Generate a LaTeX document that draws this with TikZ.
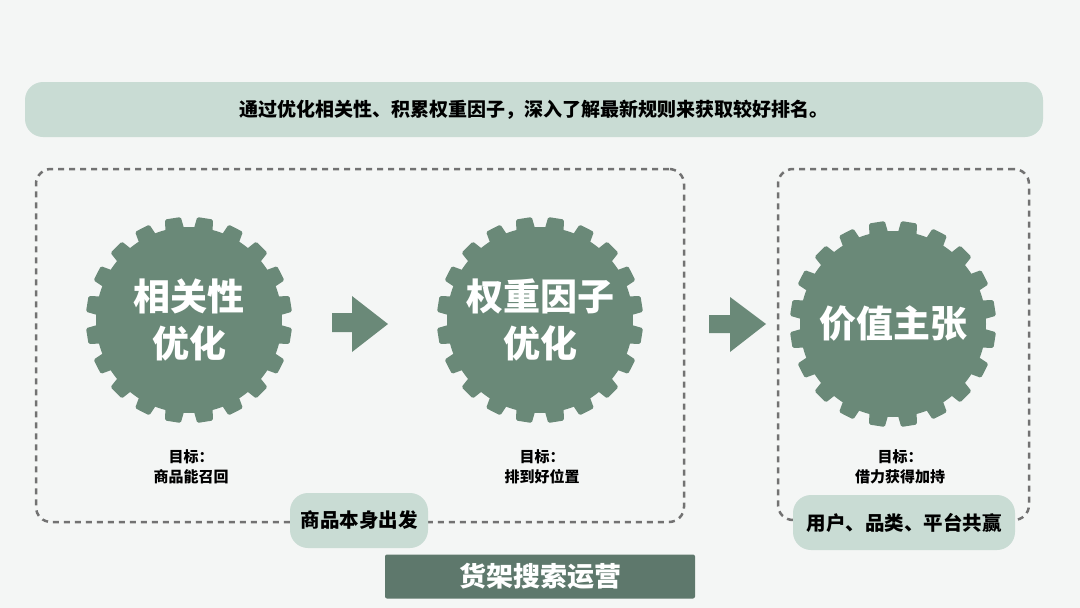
\documentclass[tikz,border=0pt]{standalone}
\usepackage{fontspec}
\setmainfont{Noto Sans CJK SC}
\definecolor{bgc}{HTML}{F4F6F5}
\definecolor{gearc}{HTML}{6A8978}
\definecolor{barc}{HTML}{5E786C}
\definecolor{tagc}{HTML}{C9DCD4}
\definecolor{dashc}{HTML}{727272}
\tikzset{
  banner/.style={fill=tagc, rounded corners=18pt, minimum width=1018pt, minimum height=55pt, inner sep=0pt, font=\fontsize{19pt}{22pt}\selectfont\bfseries, text=black},
  dashbox/.style={draw=dashc, line width=2.5pt, dash pattern=on 6pt off 5pt, rounded corners=15pt, inner sep=0pt},
  gearbody/.style={circle, fill=gearc, minimum size=186pt, inner sep=0pt, text=white, align=center, font=\fontsize{37pt}{47pt}\selectfont\bfseries},
  goal/.style={align=center, font=\fontsize{15pt}{20pt}\selectfont\bfseries, text=black},
  tagbox/.style={fill=tagc, rounded corners=18pt, minimum height=55pt, inner sep=0pt, font=\fontsize{19.5pt}{22pt}\selectfont\bfseries, text=black},
  barbox/.style={fill=barc, rounded corners=2pt, minimum width=310pt, minimum height=44pt, inner sep=0pt, font=\fontsize{27pt}{30pt}\selectfont\bfseries, text=white},
  blockarrow/.style={fill=gearc}
}
\newcommand\geartooth[1]{%
  \foreach \a in {9,27,...,351}{
    \fill[gearc, rounded corners=1.5pt, shift={(#1)}, rotate=\a]
      (82,-10.5) -- (103,-8) -- (103,8) -- (82,10.5) -- cycle;
  }%
}
\begin{document}
\begin{tikzpicture}[x=1pt,y=-1pt]
\fill[bgc] (0,0) rectangle (1080,608);
\useasboundingbox (0,0) rectangle (1080,608);

% top banner
\node[banner] (top) at (534,109.5) {通过优化相关性、积累权重因子，深入了解最新规则来获取较好排名。};

% dashed groups
\node[dashbox, minimum width=648pt, minimum height=353pt] (lbox) at (360,345.5) {};
\node[dashbox, minimum width=251pt, minimum height=351pt] (rbox) at (903.5,344.5) {};

% gears
\geartooth{189,320}
\geartooth{540,320}
\geartooth{893,324}
\node[gearbody] (g1) at (189,320) {相关性\\优化};
\node[gearbody] (g2) at (540,320) {权重因子\\优化};
\node[gearbody] (g3) at (893,324) {价值主张};

% block arrows
\fill[blockarrow] (332,313) -- (352,313) -- (352,296) -- (388,324) -- (352,352) -- (352,332) -- (332,332) -- cycle;
\fill[blockarrow] (709,315) -- (730,315) -- (730,297) -- (766,324) -- (730,352) -- (730,333) -- (709,333) -- cycle;

% goals
\node[goal] (l1) at (191,467) {目标：\\商品能召回};
\node[goal] (l2) at (542,467) {目标：\\排到好位置};
\node[goal] (l3) at (900,467) {目标：\\借力获得加持};

% tags
\node[tagbox, minimum width=138pt] (t1) at (359,520.5) {商品本身出发};
\node[tagbox, minimum width=222pt] (t2) at (904,522.5) {用户、品类、平台共赢};

% bottom bar
\node[barbox] (bar) at (540,576.5) {货架搜索运营};
\end{tikzpicture}
\end{document}
